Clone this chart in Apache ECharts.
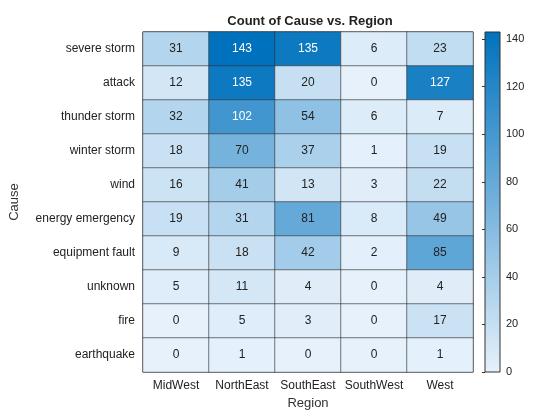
<!DOCTYPE html>
<html><head><meta charset="utf-8">
<script src="https://cdn.jsdelivr.net/npm/echarts@6/dist/echarts.min.js"></script>
<style>html,body{margin:0;background:#fff}#c{width:560px;height:420px}</style>
</head><body><div id="c"></div>
<script>
const regions = ['MidWest', 'NorthEast', 'SouthEast', 'SouthWest', 'West'];
const causes = ['severe storm', 'attack', 'thunder storm', 'winter storm', 'wind',
  'energy emergency', 'equipment fault', 'unknown', 'fire', 'earthquake'];
const counts = [
  [31, 143, 135, 6, 23],
  [12, 135, 20, 0, 127],
  [32, 102, 54, 6, 7],
  [18, 70, 37, 1, 19],
  [16, 41, 13, 3, 22],
  [19, 31, 81, 8, 49],
  [9, 18, 42, 2, 85],
  [5, 11, 4, 0, 4],
  [0, 5, 3, 0, 17],
  [0, 1, 0, 0, 1]
];

const data = [];
counts.forEach((row, r) => row.forEach((v, c) => data.push([c, r, v])));
const maxV = 143;
const lowC = '#e6f1fb', highC = '#0072bd';
const font = 'Helvetica, Arial, "Liberation Sans", sans-serif';

const chart = echarts.init(document.getElementById('c'));
chart.setOption({
  animation: false,
  textStyle: { fontFamily: font },
  title: { text: 'Count of Cause vs. Region', left: 305, top: 10, textAlign: 'center',
    textStyle: { fontSize: 13, fontWeight: 'bold', color: '#222' } },
  grid: [
    { left: 137, right: 87, top: 32, bottom: 48, show: true, borderColor: '#333', borderWidth: 1 },
    { left: 485, width: 15, top: 32, height: 340, show: true, borderColor: '#333', borderWidth: 1,
      backgroundColor: new echarts.graphic.LinearGradient(0, 1, 0, 0, [
        { offset: 0, color: lowC }, { offset: 1, color: highC }]) }
  ],
  xAxis: [
    { type: 'category', data: regions, gridIndex: 0, name: 'Region', nameLocation: 'middle', nameGap: 24,
      nameTextStyle: { fontSize: 13, color: '#333' },
      axisLine: { show: false }, axisTick: { show: false },
      axisLabel: { color: '#222', fontSize: 12, margin: 8, interval: 0 }, splitLine: { show: false } },
    { type: 'value', gridIndex: 1, show: false, min: 0, max: 1 }
  ],
  yAxis: [
    { type: 'category', data: causes, inverse: true, gridIndex: 0, name: 'Cause', nameLocation: 'middle', nameGap: 122,
      nameTextStyle: { fontSize: 13, color: '#333' },
      axisLine: { show: false }, axisTick: { show: false },
      axisLabel: { color: '#222', fontSize: 12, margin: 8, interval: 0 } },
    { type: 'value', gridIndex: 1, position: 'right', min: 0, max: maxV, interval: 20,
      axisLine: { show: false }, splitLine: { show: false },
      axisTick: { inside: true, length: 3, lineStyle: { color: '#333' } },
      axisLabel: { color: '#222', fontSize: 11, margin: 6, showMaxLabel: false } }
  ],
  visualMap: {
    type: 'continuous', show: false, min: 0, max: maxV, seriesIndex: 0, dimension: 2,
    inRange: { color: [lowC, highC] }
  },
  series: [{
    type: 'heatmap', data: data, xAxisIndex: 0, yAxisIndex: 0,
    itemStyle: { borderColor: '#333', borderWidth: 0.6 },
    label: { show: true, fontSize: 12,
      formatter: p => p.value[2] >= 100 ? '{w|' + p.value[2] + '}' : '{b|' + p.value[2] + '}',
      rich: { w: { color: '#fff', fontSize: 12 }, b: { color: '#222', fontSize: 12 } } },
    emphasis: { disabled: true }
  }]
});
</script></body></html>
